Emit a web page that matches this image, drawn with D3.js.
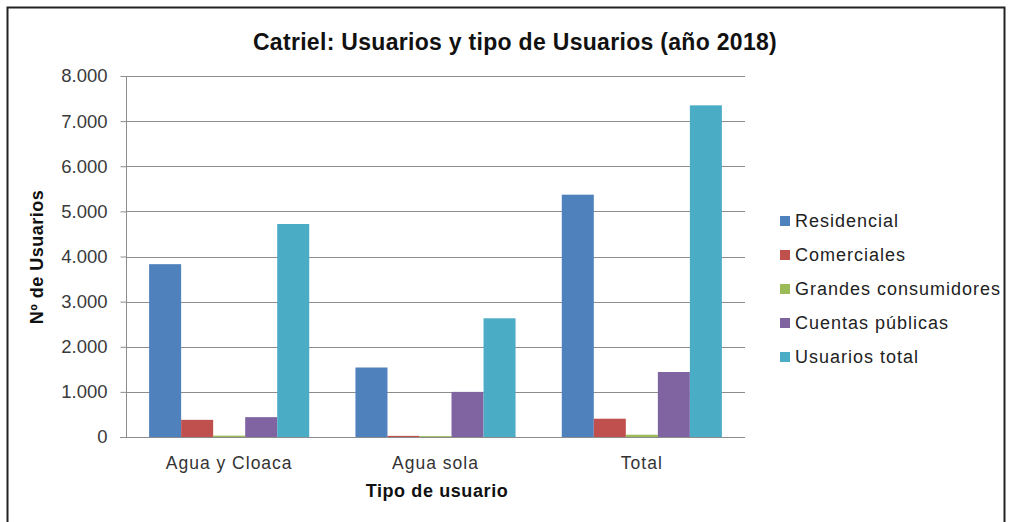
<!DOCTYPE html>
<html>
<head>
<meta charset="utf-8">
<script src="https://cdn.jsdelivr.net/npm/d3@7"></script>
<style>
  body { margin: 0; background: #fff; }
  svg { font-family: "Liberation Sans", Arial, sans-serif; }
</style>
</head>
<body>
<svg width="1009" height="522"></svg>
<script>
var categories = ["Agua y Cloaca", "Agua sola", "Total"];
var seriesNames = ["Residencial", "Comerciales", "Grandes consumidores", "Cuentas públicas", "Usuarios total"];
var residencial = [3830, 1540, 5370];
var comerciales = [380, 25, 405];
var grandes = [30, 20, 50];
var cuentas = [440, 1000, 1440];
var usuariosTotal = [4720, 2630, 7350];
var yTicks = [0, 1000, 2000, 3000, 4000, 5000, 6000, 7000, 8000];
var colors = ["#4F81BD", "#C0504D", "#9BBB59", "#8064A2", "#4BACC6"];

var values = [residencial, comerciales, grandes, cuentas, usuariosTotal];

var svg = d3.select("svg");

// marco exterior
svg.append("rect")
  .attr("x", 7.5).attr("y", 7.5)
  .attr("width", 997).attr("height", 530)
  .attr("fill", "none").attr("stroke", "#222").attr("stroke-width", 2);

var pLeft = 126, pRight = 745, pTop = 76, pBottom = 437;

var y = d3.scaleLinear().domain([0, 8000]).range([pBottom, pTop]);
var x0 = d3.scaleBand().domain(categories).range([pLeft, pRight]).padding(0);
var x1 = d3.scaleBand().domain(seriesNames)
  .range([x0.bandwidth() * 0.112, x0.bandwidth() * 0.888]).padding(0);

var fmt = function (d) { return d3.format(",")(d).replace(/,/g, "."); };

// rejilla
svg.append("g").selectAll("line").data(yTicks.slice(1)).join("line")
  .attr("x1", pLeft).attr("x2", pRight)
  .attr("y1", function (d) { return Math.round(y(d)) + 0.5; })
  .attr("y2", function (d) { return Math.round(y(d)) + 0.5; })
  .attr("stroke", "#8c8c8c").attr("stroke-width", 1);

// barras
var groups = svg.append("g").selectAll("g").data(categories).join("g")
  .attr("transform", function (d) { return "translate(" + x0(d) + ",0)"; });

groups.selectAll("rect")
  .data(function (c, i) { return seriesNames.map(function (s, k) { return { s: s, v: values[k][i], k: k }; }); })
  .join("rect")
  .attr("x", function (d) { return x1(d.s); })
  .attr("width", x1.bandwidth())
  .attr("y", function (d) { return y(d.v); })
  .attr("height", function (d) { return pBottom - y(d.v); })
  .attr("fill", function (d) { return colors[d.k]; });

// eje y
var yAxis = svg.append("g")
  .attr("transform", "translate(" + (pLeft + 0.5) + ",0)")
  .call(d3.axisLeft(y).tickValues(yTicks).tickFormat(fmt).tickSize(6).tickPadding(13));
yAxis.select(".domain").attr("stroke", "#8c8c8c").attr("d", "M0," + pTop + "V" + pBottom);
yAxis.selectAll(".tick line").attr("stroke", "#8c8c8c");
yAxis.selectAll("text").attr("font-size", 18.5).attr("fill", "#3a3a3a")
  .attr("font-family", "Liberation Sans, Arial, sans-serif");

// eje x
var xAxis = svg.append("g")
  .attr("transform", "translate(0," + (pBottom + 0.5) + ")")
  .call(d3.axisBottom(x0).tickSize(0).tickPadding(19));
xAxis.select(".domain").attr("stroke", "#8c8c8c").attr("d", "M" + (pLeft - 6) + ",0H" + pRight);
xAxis.selectAll("text").attr("font-size", 17.5).attr("fill", "#333")
  .attr("letter-spacing", 1)
  .attr("font-family", "Liberation Sans, Arial, sans-serif");

// titulos
svg.append("text")
  .attr("x", 515).attr("y", 50)
  .attr("text-anchor", "middle")
  .attr("font-size", 23).attr("font-weight", "bold").attr("fill", "#111")
  .attr("letter-spacing", 0.3)
  .text("Catriel: Usuarios y tipo de Usuarios (año 2018)");

svg.append("text")
  .attr("transform", "translate(43,257) rotate(-90)")
  .attr("text-anchor", "middle")
  .attr("font-size", 18).attr("font-weight", "bold").attr("fill", "#111")
  .attr("letter-spacing", 0.5)
  .text("Nº de Usuarios");

svg.append("text")
  .attr("x", 437).attr("y", 497)
  .attr("text-anchor", "middle")
  .attr("font-size", 18).attr("font-weight", "bold").attr("fill", "#111")
  .attr("letter-spacing", 0.6)
  .text("Tipo de usuario");

// leyenda
var legend = svg.append("g").selectAll("g").data(seriesNames).join("g")
  .attr("transform", function (d, i) { return "translate(780," + (221 + i * 34) + ")"; });
legend.append("rect")
  .attr("x", 0).attr("y", -5).attr("width", 10).attr("height", 10)
  .attr("fill", function (d, i) { return colors[i]; });
legend.append("text")
  .attr("x", 15).attr("y", 0).attr("dy", "0.35em")
  .attr("font-size", 18).attr("fill", "#222").attr("letter-spacing", 1)
  .text(function (d) { return d; });
</script>
</body>
</html>
